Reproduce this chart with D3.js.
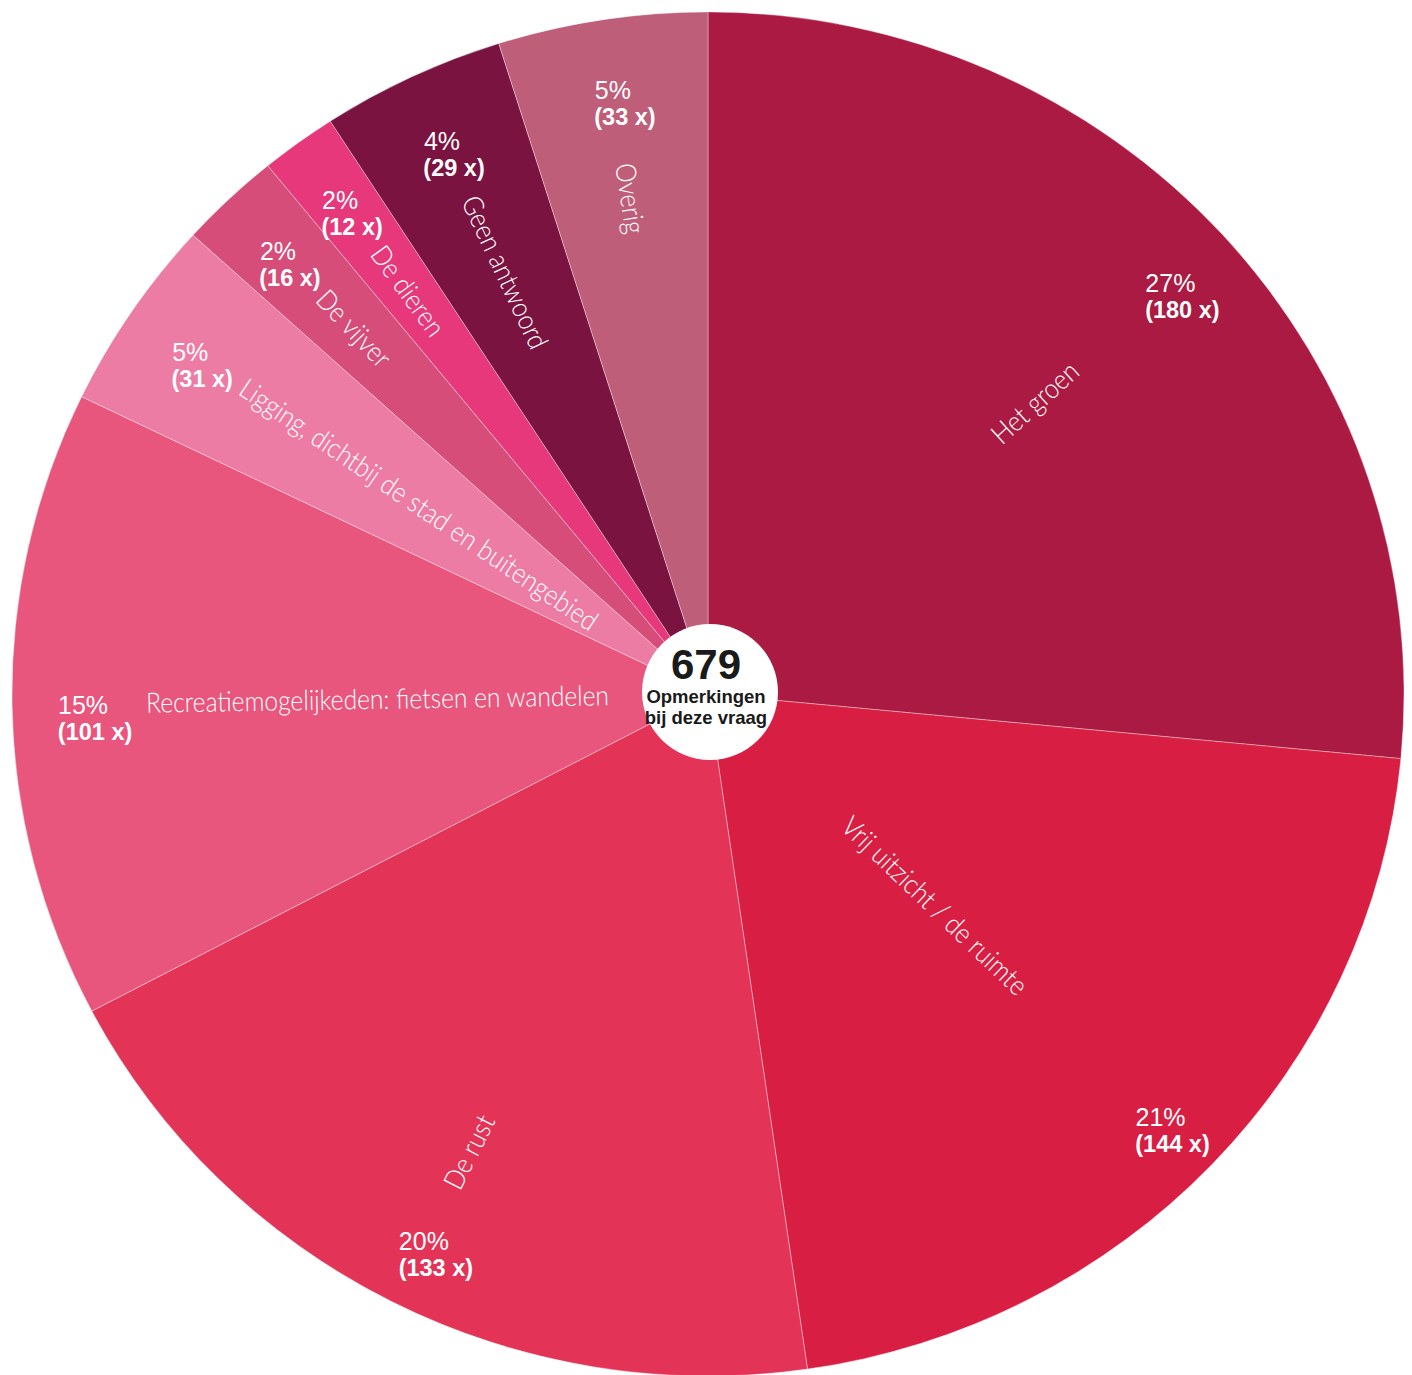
<!DOCTYPE html>
<html>
<head>
<meta charset="utf-8">
<script src="https://cdn.jsdelivr.net/npm/d3@7/dist/d3.min.js"></script>
<style>
  html, body { margin: 0; padding: 0; background: #ffffff; }
  svg { display: block; }
</style>
</head>
<body>
<svg id="chart" width="1412" height="1375"></svg>
<script>
// ---- data ----
const categories = [
  "Het groen",
  "Vrij uitzicht / de ruimte",
  "De rust",
  "Recreatiemogelijkeden: fietsen en wandelen",
  "Ligging, dichtbij de stad en buitengebied",
  "De vijver",
  "De dieren",
  "Geen antwoord",
  "Overig"
];
const counts = [180, 144, 133, 101, 31, 16, 12, 29, 33];
const centerTitle = "Opmerkingen";
const centerSubtitle = "bij deze vraag";

// ---- style / layout ----
const palette = ["#AB1A42", "#D81F43", "#E33458", "#E8557D", "#ED7CA4",
                 "#D64D79", "#E6387A", "#7B1340", "#BF5E78"];
const cx = 708, cy = 694;
const R = 696;
const sy = 0.98;              // slight vertical squash seen in the reference
const nameFont = "Lato, Roboto, 'Liberation Sans', sans-serif";
const numFont = "'Liberation Sans', Arial, Helvetica, sans-serif";

const total = d3.sum(counts);
const rows = categories.map((c, i) => ({ name: c, count: counts[i], color: palette[i], idx: i }));

const svg = d3.select("#chart");
const pie = d3.pie().sort(null).value(d => d.count);
const arcs = pie(rows);

const arc = d3.arc().innerRadius(0).outerRadius(R);

const g = svg.append("g").attr("transform", `translate(${cx},${cy}) scale(1,${sy})`);
g.selectAll("path.slice")
  .data(arcs)
  .join("path")
  .attr("class", "slice")
  .attr("d", arc)
  .attr("fill", d => d.data.color)
  .attr("stroke", "rgba(255,255,255,0.35)")
  .attr("stroke-width", 1)
  .attr("vector-effect", "non-scaling-stroke");

// helpers
const deg = a => a * 180 / Math.PI;
function polar(r, a) { return [cx + r * Math.sin(a), cy - r * Math.cos(a) * sy]; }

// ---- percent / count labels ----
const pctArc = d3.arc().innerRadius(625).outerRadius(625);
const fmtPct = v => Math.round(v / total * 100) + "%";
const labels = svg.append("g");
arcs.forEach(d => {
  const [x0, y0] = pctArc.centroid(d);
  const x = cx + x0, y = cy + y0 * sy;
  labels.append("text")
    .attr("x", x).attr("y", y + 10)
    .attr("text-anchor", "middle")
    .attr("font-family", numFont).attr("font-size", 25)
    .attr("fill", "#fff")
    .text(fmtPct(d.data.count));
  labels.append("text")
    .attr("x", x + 12).attr("y", y + 36)
    .attr("text-anchor", "middle")
    .attr("font-family", numFont).attr("font-size", 23.5).attr("font-weight", "bold")
    .attr("fill", "#fff")
    .text(`(${d.data.count} x)`);
});

// ---- category names (radial) ----
const nameMidR = [0.635 * R, 0.45 * R];   // right-half labels, centred
const nameOuterR = [null, null, 565, 562, 562, 562, 562, 560, 548]; // left-half labels start here, reading inward
const names = svg.append("g");
arcs.forEach((d, i) => {
  const a = (d.startAngle + d.endAngle) / 2;
  let x, y, rot, anchor;
  if (a < Math.PI) {
    [x, y] = polar(nameMidR[i] || 0.6 * R, a);
    rot = deg(a) - 90;
    anchor = "middle";
  } else {
    [x, y] = polar(nameOuterR[i] || 562, a);
    rot = deg(a) - 270;
    anchor = "start";
  }
  names.append("text")
    .attr("transform", `translate(${x},${y}) rotate(${rot}) scale(0.88,1)`)
    .attr("text-anchor", anchor)
    .attr("dy", "0.35em")
    .attr("font-family", nameFont)
    .attr("font-weight", 300)
    .attr("font-size", 28)
    .attr("fill", "#fff")
    .text(d.data.name);
});

// ---- centre ----
const c = svg.append("g");
c.append("circle").attr("cx", 710).attr("cy", 692).attr("r", 68).attr("fill", "#fff");
c.append("text").attr("x", 706).attr("y", 679).attr("text-anchor", "middle")
  .attr("font-family", numFont).attr("font-weight", "bold").attr("font-size", 42)
  .attr("fill", "#1a1a1a").text(total);
c.append("text").attr("x", 706).attr("y", 703).attr("text-anchor", "middle")
  .attr("font-family", numFont).attr("font-weight", "bold").attr("font-size", 18.5)
  .attr("fill", "#1a1a1a").text(centerTitle);
c.append("text").attr("x", 706).attr("y", 724).attr("text-anchor", "middle")
  .attr("font-family", numFont).attr("font-weight", "bold").attr("font-size", 18.5)
  .attr("fill", "#1a1a1a").text(centerSubtitle);
</script>
</body>
</html>
